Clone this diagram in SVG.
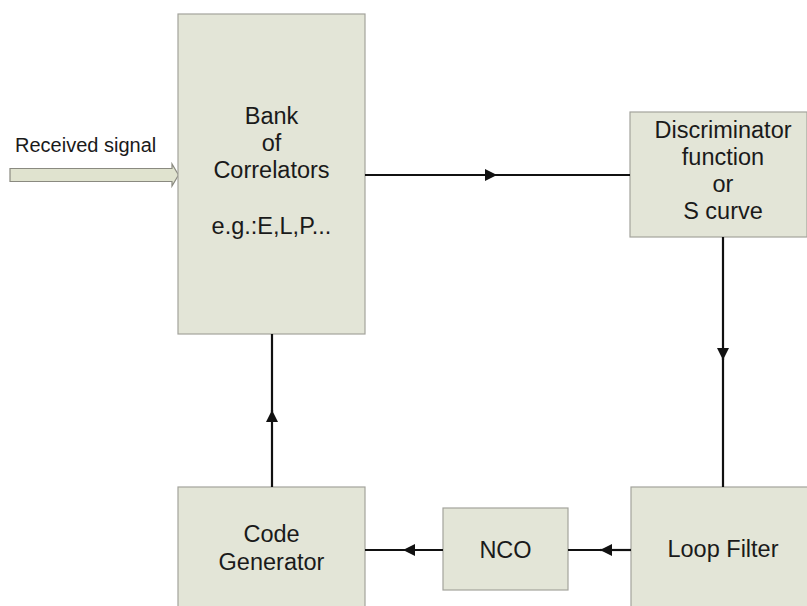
<svg xmlns="http://www.w3.org/2000/svg" width="807" height="606" viewBox="0 0 807 606">
  <style>
    .box { fill: #e3e5d7; stroke: #a3a39c; stroke-width: 1.2; }
    .lbl { font-family: "Liberation Sans", Arial, Helvetica, sans-serif; font-size: 23.5px; fill: #1a1a1a; text-anchor: middle; }
    .wire { stroke: #111; stroke-width: 2.2; fill: none; }
  </style>
  <defs>
    <marker id="tri" viewBox="0 0 12 12" refX="12" refY="6" markerWidth="12" markerHeight="12" markerUnits="userSpaceOnUse" orient="auto">
      <path d="M0,0 L12,6 L0,12 z" fill="#111"/>
    </marker>
  </defs>
  <rect width="807" height="606" fill="#ffffff"/>

  <!-- input signal: hollow block arrow with caption -->
  <g id="input">
    <text x="15" y="152" font-family="Liberation Sans, Arial, sans-serif" font-size="20" fill="#1a1a1a">Received signal</text>
    <path d="M10,168.5 H172 V164 L178.5,175 L172,186 V181.5 H10 Z" fill="#e0e3cf" stroke="#8a8a80" stroke-width="1.2"/>
  </g>

  <g id="bank">
    <rect class="box" x="178" y="14" width="187" height="320"/>
    <text class="lbl" x="271.5" y="124">Bank</text>
    <text class="lbl" x="271.5" y="151">of</text>
    <text class="lbl" x="271.5" y="178">Correlators</text>
    <text class="lbl" x="271.5" y="234">e.g.:E,L,P...</text>
  </g>

  <g id="discriminator">
    <rect class="box" x="630" y="112" width="177" height="125"/>
    <text class="lbl" x="723" y="138">Discriminator</text>
    <text class="lbl" x="723" y="165">function</text>
    <text class="lbl" x="723" y="192">or</text>
    <text class="lbl" x="723" y="219">S curve</text>
  </g>

  <g id="codegen">
    <rect class="box" x="178" y="487" width="187" height="125"/>
    <text class="lbl" x="271.5" y="542">Code</text>
    <text class="lbl" x="271.5" y="570">Generator</text>
  </g>

  <g id="nco">
    <rect class="box" x="443" y="508" width="125" height="82"/>
    <text class="lbl" x="505.5" y="558">NCO</text>
  </g>

  <g id="loopfilter">
    <rect class="box" x="631" y="487" width="180" height="125"/>
    <text class="lbl" x="723" y="557">Loop Filter</text>
  </g>

  <g id="connectors">
    <!-- bank -> discriminator -->
    <path class="wire" d="M365,175 H497" marker-end="url(#tri)"/>
    <path class="wire" d="M495,175 H630"/>
    <!-- discriminator -> loop filter -->
    <path class="wire" d="M723,237 V360" marker-end="url(#tri)"/>
    <path class="wire" d="M723,358 V487"/>
    <!-- loop filter -> NCO -->
    <path class="wire" d="M631,550 H600" marker-end="url(#tri)"/>
    <path class="wire" d="M602,550 H568"/>
    <!-- NCO -> code generator -->
    <path class="wire" d="M443,550 H403" marker-end="url(#tri)"/>
    <path class="wire" d="M405,550 H365"/>
    <!-- code generator -> bank -->
    <path class="wire" d="M272,487 V410" marker-end="url(#tri)"/>
    <path class="wire" d="M272,412 V334"/>
  </g>
</svg>
